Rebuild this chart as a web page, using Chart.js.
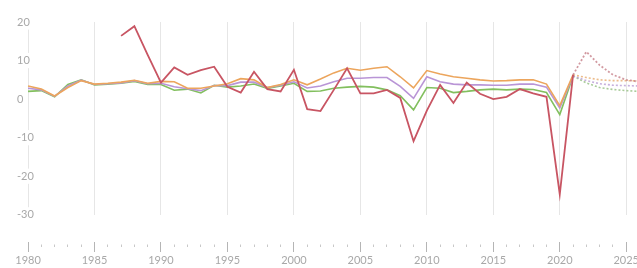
<!DOCTYPE html>
<html>
<head>
<meta charset="utf-8">
<script src="https://cdn.jsdelivr.net/npm/chart.js@4.4.1/dist/chart.umd.min.js"></script>
<style>
  html, body { margin: 0; padding: 0; background: #fff; overflow: hidden; }
  #wrap { width: 637px; height: 268px; overflow: hidden; }
</style>
</head>
<body>
<div id="wrap"><canvas id="chart" width="640" height="268"></canvas></div>
<script>
// years with actual values
var years = [];
for (var y = 1980; y <= 2021; y++) years.push(y);
var redYears = years.slice(7); // red series starts in 1987

// forecast years (dotted part)
var forecastYears = [2021, 2022, 2023, 2024, 2025, 2026];

var redValues = [16.4, 18.9, 11.5, 4.3, 8.2, 6.3, 7.5, 8.4, 3.2, 1.7,
    7.1, 2.6, 2.0, 7.6, -2.6, -3.1, 2.4, 8.0, 1.5, 1.5,
    2.4, 0.3, -10.9, -3.0, 3.7, -1.0, 4.3, 1.4, 0.0, 0.6,
    2.6, 1.5, 0.6, -24.7, 6.3];
var orangeValues = [3.4, 2.6, 0.8, 3.0, 4.8, 3.9, 4.1, 4.4, 4.9, 4.1,
    4.6, 4.5, 2.8, 2.8, 3.4, 4.0, 5.3, 5.0, 3.0, 3.8,
    5.0, 3.7, 5.2, 6.8, 8.0, 7.5, 8.0, 8.4, 5.8, 2.9,
    7.4, 6.5, 5.8, 5.4, 5.0, 4.7, 4.8, 5.0, 5.0, 3.9,
    -1.7, 6.3];
var purpleValues = [2.8, 2.4, 0.7, 3.4, 4.9, 3.8, 4.0, 4.2, 4.8, 4.0,
    4.1, 3.2, 2.7, 2.2, 3.5, 3.5, 4.4, 4.4, 3.0, 3.6,
    4.5, 2.9, 3.4, 4.5, 5.4, 5.4, 5.6, 5.6, 3.3, 0.2,
    5.8, 4.5, 3.9, 3.7, 3.7, 3.6, 3.6, 3.9, 3.9, 3.1,
    -2.3, 6.0];
var greenValues = [2.0, 2.2, 0.6, 3.8, 5.0, 3.7, 3.9, 4.1, 4.6, 3.8,
    3.8, 2.3, 2.6, 1.6, 3.6, 3.1, 3.4, 3.9, 2.8, 3.4,
    4.1, 2.0, 2.1, 2.8, 3.1, 3.3, 3.1, 2.4, 0.9, -2.8,
    3.0, 2.8, 1.7, 2.0, 2.4, 2.6, 2.4, 2.6, 2.5, 1.7,
    -4.0, 6.0];

var redForecast = [6.3, 12.3, 8.8, 6.3, 5.0, 4.5];
var orangeForecast = [6.3, 5.6, 5.0, 4.8, 4.8, 4.7];
var purpleForecast = [6.0, 4.8, 4.0, 3.6, 3.5, 3.4];
var greenForecast = [6.0, 4.2, 3.0, 2.5, 2.2, 2.0];

var yTicks = [-30, -20, -10, 0, 10, 20];

// join actual + forecast into {x, y} points
function makePoints(xs, vals, fxs, fvals) {
    var pts = [];
    xs.forEach(function (x, i) { pts.push({ x: x, y: vals[i] }); });
    fxs.forEach(function (x, i) {
        if (i > 0) pts.push({ x: x, y: fvals[i] });
    });
    return pts;
}

function makeDataset(label, pts, color, fadeColor, width) {
    return {
        label: label,
        data: pts,
        borderColor: color,
        borderWidth: width,
        pointRadius: 0,
        tension: 0,
        segment: {
            borderDash: function (ctx) { return ctx.p0.parsed.x >= 2021 ? [2, 2] : undefined; },
            borderColor: function (ctx) { return ctx.p0.parsed.x >= 2021 ? fadeColor : undefined; }
        }
    };
}

var axisFont = { family: 'Lato', size: 11 };

new Chart(document.getElementById('chart'), {
    type: 'line',
    data: {
        datasets: [
            makeDataset('red', makePoints(redYears, redValues, forecastYears, redForecast), '#c85563', 'rgba(195,120,130,0.75)', 1.8),
            makeDataset('orange', makePoints(years, orangeValues, forecastYears, orangeForecast), '#eca55c', 'rgba(230,165,100,0.75)', 1.6),
            makeDataset('purple', makePoints(years, purpleValues, forecastYears, purpleForecast), '#b995d6', 'rgba(180,150,210,0.75)', 1.6),
            makeDataset('green', makePoints(years, greenValues, forecastYears, greenForecast), '#82bf5e', 'rgba(140,185,120,0.75)', 1.6)
        ]
    },
    options: {
        responsive: false,
        animation: false,
        devicePixelRatio: 1,
        layout: { padding: { left: 17, top: 22, right: 0, bottom: 0 } },
        plugins: { legend: { display: false }, tooltip: { enabled: false } },
        scales: {
            x: {
                type: 'linear',
                min: 1979.17,
                max: 2026,
                afterBuildTicks: function (axis) {
                    var t = [];
                    for (var v = 1980; v <= 2025; v++) t.push({ value: v });
                    axis.ticks = t;
                },
                border: { display: false },
                grid: {
                    drawOnChartArea: true,
                    drawTicks: true,
                    tickLength: 38,
                    color: function (ctx) { return ctx.tick && ctx.tick.value % 5 === 0 ? '#e6e6e6' : 'rgba(0,0,0,0)'; },
                    tickColor: function (ctx) { return ctx.tick && ctx.tick.value % 5 === 0 ? '#b5b5b5' : '#c8c8c8'; },
                    tickBorderDash: function (ctx) { return ctx.tick && ctx.tick.value % 5 === 0 ? [0, 27, 10, 100] : [0, 29.5, 2.5, 100]; }
                },
                ticks: {
                    autoSkip: false,
                    maxRotation: 0,
                    padding: 1,
                    color: '#a8a8a8',
                    font: axisFont,
                    callback: function (v) { return v % 5 === 0 ? String(v) : ''; }
                }
            },
            y: {
                min: -30,
                max: 20,
                afterBuildTicks: function (axis) {
                    axis.ticks = yTicks.map(function (v) { return { value: v }; });
                },
                border: { display: false },
                grid: { display: false, drawTicks: false },
                ticks: {
                    mirror: true,
                    padding: 0,
                    color: '#a8a8a8',
                    font: axisFont,
                    showLabelBackdrop: true,
                    backdropColor: '#ffffff',
                    backdropPadding: 1
                }
            }
        }
    }
});
</script>
</body>
</html>
